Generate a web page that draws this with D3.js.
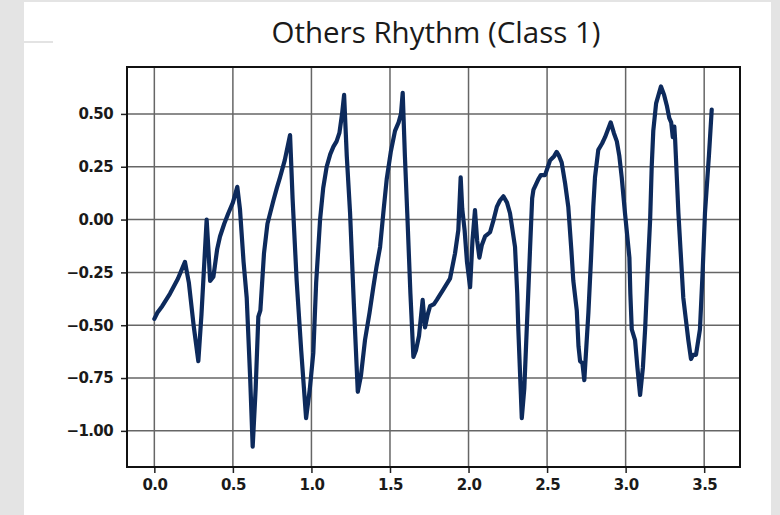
<!DOCTYPE html>
<html lang="en">
<head>
<meta charset="UTF-8">
<title>Others Rhythm (Class 1)</title>
<script src="https://cdn.jsdelivr.net/npm/d3@7"></script>
<style>
  body { margin: 0; background: #e4e4e4; }
  svg { display: block; }
</style>
</head>
<body>
<svg id="svg"></svg>
<script>
// signal samples (time in s, amplitude)
const timeValues = [
  0.00, 0.02, 0.05, 0.10, 0.15, 0.195, 0.22, 0.25, 0.28, 0.30,
  0.333, 0.345, 0.355, 0.376, 0.40, 0.418, 0.445, 0.471, 0.50, 0.528,
  0.545, 0.568, 0.588, 0.61, 0.626, 0.645, 0.662, 0.675, 0.698, 0.72,
  0.758, 0.78, 0.80, 0.83, 0.864, 0.88, 0.906, 0.935, 0.966, 0.99,
  1.012, 1.03, 1.055, 1.075, 1.097, 1.12, 1.14, 1.16, 1.178, 1.195,
  1.208, 1.225, 1.246, 1.27, 1.295, 1.315, 1.341, 1.37, 1.394, 1.415,
  1.437, 1.46, 1.479, 1.505, 1.532, 1.555, 1.57, 1.581, 1.595, 1.61,
  1.63, 1.649, 1.665, 1.685, 1.708, 1.723, 1.74, 1.755, 1.78, 1.798,
  1.84, 1.882, 1.914, 1.935, 1.95, 1.96, 1.975, 1.99, 2.01, 2.025,
  2.041, 2.055, 2.069, 2.085, 2.105, 2.137, 2.16, 2.18, 2.20, 2.222,
  2.245, 2.264, 2.296, 2.31, 2.317, 2.339, 2.355, 2.366, 2.38, 2.392,
  2.405, 2.413, 2.444, 2.46, 2.487, 2.519, 2.545, 2.561, 2.577, 2.593,
  2.615, 2.635, 2.655, 2.667, 2.689, 2.70, 2.71, 2.725, 2.737, 2.75,
  2.763, 2.78, 2.794, 2.805, 2.826, 2.85, 2.869, 2.905, 2.925, 2.944,
  2.96, 2.975, 2.996, 3.024, 3.03, 3.039, 3.06, 3.075, 3.092, 3.11,
  3.124, 3.14, 3.156, 3.166, 3.176, 3.194, 3.225, 3.245, 3.262, 3.278,
  3.29, 3.30, 3.31, 3.315, 3.336, 3.35, 3.367, 3.383, 3.399, 3.416,
  3.43, 3.448, 3.473, 3.49, 3.505, 3.53, 3.548
];
const amplitudeValues = [
  -0.47, -0.44, -0.41, -0.35, -0.28, -0.20, -0.30, -0.50, -0.67, -0.45,
  0.00, -0.15, -0.29, -0.27, -0.14, -0.08, -0.02, 0.03, 0.08, 0.155,
  0.05, -0.20, -0.37, -0.75, -1.075, -0.80, -0.46, -0.43, -0.16, -0.02,
  0.09, 0.15, 0.20, 0.28, 0.40, 0.10, -0.29, -0.62, -0.94, -0.80,
  -0.63, -0.30, 0.00, 0.15, 0.25, 0.31, 0.345, 0.37, 0.41, 0.50,
  0.59, 0.30, 0.03, -0.40, -0.815, -0.74, -0.57, -0.44, -0.32, -0.22,
  -0.13, 0.05, 0.19, 0.32, 0.42, 0.46, 0.50, 0.60, 0.30, 0.03,
  -0.35, -0.65, -0.62, -0.55, -0.38, -0.51, -0.45, -0.41, -0.40, -0.38,
  -0.33, -0.28, -0.16, -0.05, 0.20, 0.05, -0.05, -0.20, -0.32, -0.10,
  0.045, -0.10, -0.18, -0.12, -0.08, -0.06, 0.00, 0.06, 0.09, 0.11,
  0.08, 0.03, -0.13, -0.35, -0.52, -0.94, -0.80, -0.60, -0.35, -0.13,
  0.10, 0.14, 0.19, 0.21, 0.21, 0.28, 0.30, 0.32, 0.30, 0.27,
  0.17, 0.06, -0.15, -0.29, -0.43, -0.60, -0.67, -0.68, -0.76, -0.60,
  -0.44, -0.18, 0.06, 0.20, 0.33, 0.36, 0.39, 0.46, 0.41, 0.37,
  0.30, 0.20, 0.03, -0.18, -0.35, -0.52, -0.57, -0.70, -0.83, -0.70,
  -0.52, -0.25, 0.00, 0.25, 0.42, 0.55, 0.63, 0.59, 0.54, 0.48,
  0.46, 0.39, 0.44, 0.38, 0.03, -0.15, -0.37, -0.47, -0.57, -0.66,
  -0.64, -0.64, -0.52, -0.25, 0.03, 0.30, 0.52
];
const xTicks = [0, 0.5, 1, 1.5, 2, 2.5, 3, 3.5];
const yTicks = [0.5, 0.25, 0, -0.25, -0.5, -0.75, -1.0];
const chartTitle = "Others Rhythm (Class 1)";

const width = 780;
const height = 515;
const plot = { left: 127, right: 740, top: 67, bottom: 467 };

const svg = d3.select("#svg")
    .attr("width", width)
    .attr("height", height);

// white panel of the screenshot
svg.append("rect")
    .attr("x", 24).attr("y", 2)
    .attr("width", 747).attr("height", height - 2)
    .attr("fill", "#ffffff");
svg.append("line")
    .attr("x1", 24).attr("x2", 53).attr("y1", 42).attr("y2", 42)
    .attr("stroke", "#dadada").attr("stroke-width", 1.5);

const x = d3.scaleLinear()
    .domain([-0.174, 3.728])
    .range([plot.left, plot.right]);
const y = d3.scaleLinear()
    .domain([-1.171, 0.722])
    .range([plot.bottom, plot.top]);

// grid
const grid = svg.append("g");
grid.selectAll(".vgrid")
    .data(xTicks)
    .enter()
    .append("line")
    .attr("x1", d => x(d)).attr("x2", d => x(d))
    .attr("y1", plot.top).attr("y2", plot.bottom)
    .attr("stroke", "#666").attr("stroke-width", 1.5);
grid.selectAll(".hgrid")
    .data(yTicks)
    .enter()
    .append("line")
    .attr("y1", d => y(d)).attr("y2", d => y(d))
    .attr("x1", plot.left).attr("x2", plot.right)
    .attr("stroke", "#666").attr("stroke-width", 1.5);

// signal
const points = timeValues.map((t, i) => [t, amplitudeValues[i]]);
const line = d3.line()
    .x(d => x(d[0]))
    .y(d => y(d[1]));
svg.append("path")
    .datum(points)
    .attr("d", line)
    .attr("fill", "none")
    .attr("stroke", "#0d2a5c")
    .attr("stroke-width", 4.2)
    .attr("stroke-linejoin", "round")
    .attr("stroke-linecap", "round");

// axes
const tickFormatY = d => d3.format(".2f")(d).replace("-", "\u2212");
const xAxis = d3.axisBottom(x)
    .tickValues(xTicks)
    .tickFormat(d3.format(".1f"))
    .tickSizeInner(6).tickSizeOuter(0).tickPadding(6);
const yAxis = d3.axisLeft(y)
    .tickValues(yTicks)
    .tickFormat(tickFormatY)
    .tickSizeInner(6).tickSizeOuter(0).tickPadding(8);

const gx = svg.append("g")
    .attr("transform", `translate(0,${plot.bottom})`)
    .call(xAxis);
const gy = svg.append("g")
    .attr("transform", `translate(${plot.left},0)`)
    .call(yAxis);
[gx, gy].forEach(g => {
    g.select(".domain").remove();
    g.selectAll(".tick line").attr("stroke", "#222").attr("stroke-width", 1.5);
    g.selectAll(".tick text")
        .attr("fill", "#1a1a1a")
        .style("font-family", "'DejaVu Sans', sans-serif")
        .style("font-weight", "bold")
        .style("font-size", "15px")
        .style("letter-spacing", "-0.6px");
});

// frame
svg.append("rect")
    .attr("x", plot.left).attr("y", plot.top)
    .attr("width", plot.right - plot.left)
    .attr("height", plot.bottom - plot.top)
    .attr("fill", "none")
    .attr("stroke", "#111")
    .attr("stroke-width", 2);

// title
svg.append("text")
    .attr("x", 436)
    .attr("y", 43)
    .attr("text-anchor", "middle")
    .style("font-family", "'Open Sans', sans-serif")
    .style("font-size", "29.5px")
    .attr("fill", "#1a1a1a")
    .text(chartTitle);
</script>
</body>
</html>
